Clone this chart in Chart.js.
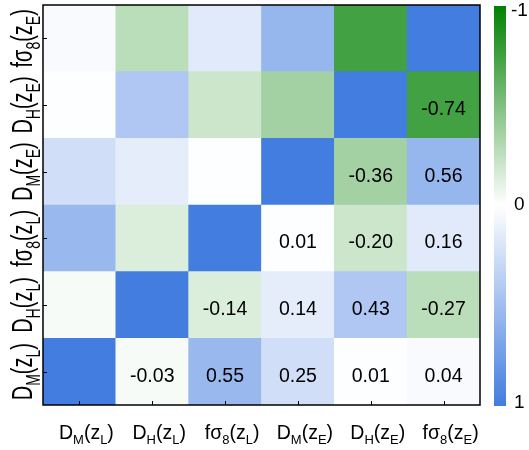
<!DOCTYPE html>
<html lang="en">
<head>
    <script src="https://cdn.jsdelivr.net/npm/chart.js"></script>
    <style>
        body {
            margin: 0;
            background: #ffffff;
        }
        #container {
            width: 529px;
            height: 450px;
            position: relative;
        }
    </style>
</head>
<body>
    <div id="container">
        <canvas id="myChart"></canvas>
    </div>

    <script>
        // 参数名: [主体, 下标, 括号内主体, 括号内下标]
        const names = [
            ['D', 'M', 'z', 'L'],
            ['D', 'H', 'z', 'L'],
            ['fσ', '8', 'z', 'L'],
            ['D', 'M', 'z', 'E'],
            ['D', 'H', 'z', 'E'],
            ['fσ', '8', 'z', 'E']
        ];

        // 相关系数矩阵，每行一个参数（从下往上）
        const rowDML = [1, -0.03, 0.55, 0.25, 0.01, 0.04];
        const rowDHL = [-0.03, 1, -0.14, 0.14, 0.43, -0.27];
        const rowFSL = [0.55, -0.14, 1, 0.01, -0.20, 0.16];
        const rowDME = [0.25, 0.14, 0.01, 1, -0.36, 0.56];
        const rowDHE = [0.01, 0.43, -0.20, -0.36, 1, -0.74];
        const rowFSE = [0.04, -0.27, 0.16, 0.56, -0.74, 1];
        const rows = [rowDML, rowDHL, rowFSL, rowDME, rowDHE, rowFSE];

        const colorbarTicks = [-1, 0, 1];

        const GREEN = [0, 128, 0];
        const BLUE = [68, 125, 224];

        function corrColor(v) {
            const end = v < 0 ? GREEN : BLUE;
            const t = Math.min(1, Math.abs(v));
            const c = end.map(e => Math.round(255 + (e - 255) * t));
            return 'rgb(' + c.join(',') + ')';
        }

        // 每行是一组浮动柱，占满 [i, i+1]
        const datasets = rows.map((row, i) => ({
            data: row.map(() => [i, i + 1]),
            backgroundColor: row.map(corrColor),
            borderWidth: 0,
            grouped: false,
            barPercentage: 1,
            categoryPercentage: 1
        }));

        function drawRich(ctx, parts, x, y, size) {
            const sub = Math.round(size * 0.68);
            const drop = size * 0.28;
            const pieces = [
                [parts[0], false], [parts[1], true],
                ['(' + parts[2], false], [parts[3], true], [')', false]
            ];
            let w = 0;
            pieces.forEach(p => {
                ctx.font = (p[1] ? sub : size) + 'px "Liberation Sans", Arial, sans-serif';
                w += ctx.measureText(p[0]).width;
            });
            let cx = x - w / 2;
            ctx.textAlign = 'left';
            ctx.textBaseline = 'alphabetic';
            pieces.forEach(p => {
                ctx.font = (p[1] ? sub : size) + 'px "Liberation Sans", Arial, sans-serif';
                ctx.fillText(p[0], cx, p[1] ? y + drop : y);
                cx += ctx.measureText(p[0]).width;
            });
        }

        const decorations = {
            id: 'decorations',
            afterDraw(chart) {
                const ctx = chart.ctx;
                const xs = chart.scales.x;
                const ys = chart.scales.y;
                const area = chart.chartArea;
                ctx.save();
                ctx.fillStyle = '#000';

                // 上三角数值
                ctx.font = '19.5px "Liberation Sans", Arial, sans-serif';
                ctx.textAlign = 'center';
                ctx.textBaseline = 'alphabetic';
                rows.forEach((row, i) => {
                    row.forEach((v, j) => {
                        if (j <= i) return;
                        const px = xs.getPixelForValue(j);
                        const py = ys.getPixelForValue(i + 0.5);
                        ctx.fillText(v.toFixed(2), px, py + 10);
                    });
                });

                // 边框和内向刻度
                ctx.strokeStyle = '#000';
                ctx.lineWidth = 1.5;
                ctx.strokeRect(area.left, area.top, area.right - area.left, area.bottom - area.top);
                ctx.lineWidth = 1;
                ctx.beginPath();
                names.forEach((n, k) => {
                    const px = Math.round(xs.getPixelForValue(k)) + 0.5;
                    ctx.moveTo(px, area.bottom);
                    ctx.lineTo(px, area.bottom - 4);
                    const py = Math.round(ys.getPixelForValue(k + 0.5)) + 0.5;
                    ctx.moveTo(area.left, py);
                    ctx.lineTo(area.left + 4, py);
                });
                ctx.stroke();

                // 坐标标签
                names.forEach((n, k) => {
                    drawRich(ctx, n, xs.getPixelForValue(k) + 7, area.bottom + 34, 19.5);
                    ctx.save();
                    ctx.translate(32, ys.getPixelForValue(k + 0.5));
                    ctx.rotate(-Math.PI / 2);
                    ctx.scale(1, 1.45);
                    drawRich(ctx, n, 0, 0, 20);
                    ctx.restore();
                });

                // 色标
                const cbX = area.right + 14;
                const cbW = 12;
                const grad = ctx.createLinearGradient(0, area.top, 0, area.bottom);
                grad.addColorStop(0, corrColor(-1));
                grad.addColorStop(0.5, corrColor(0));
                grad.addColorStop(1, corrColor(1));
                ctx.fillStyle = grad;
                ctx.fillRect(cbX, area.top + 1, cbW, area.bottom - area.top);

                ctx.fillStyle = '#000';
                ctx.font = '19px "Liberation Sans", Arial, sans-serif';
                ctx.textAlign = 'left';
                ctx.textBaseline = 'middle';
                colorbarTicks.forEach(t => {
                    let py = area.top + (t + 1) / 2 * (area.bottom - area.top);
                    if (t === -1) py += 6;
                    if (t === 1) py -= 2;
                    ctx.fillText(String(t), t === -1 ? cbX + 17 : cbX + 20, py);
                });
                ctx.restore();
            }
        };

        const ctx = document.getElementById('myChart').getContext('2d');
        const chart = new Chart(ctx, {
            type: 'bar',
            data: {
                labels: names.map((n, k) => k),
                datasets: datasets
            },
            options: {
                responsive: true,
                maintainAspectRatio: false,
                animation: false,
                layout: {
                    padding: { left: 43, right: 49, top: 5, bottom: 45 }
                },
                plugins: {
                    legend: { display: false },
                    tooltip: { enabled: false }
                },
                scales: {
                    x: { type: 'category', display: false },
                    y: { type: 'linear', min: 0, max: 6, display: false }
                }
            },
            plugins: [decorations]
        });
    </script>
</body>
</html>
